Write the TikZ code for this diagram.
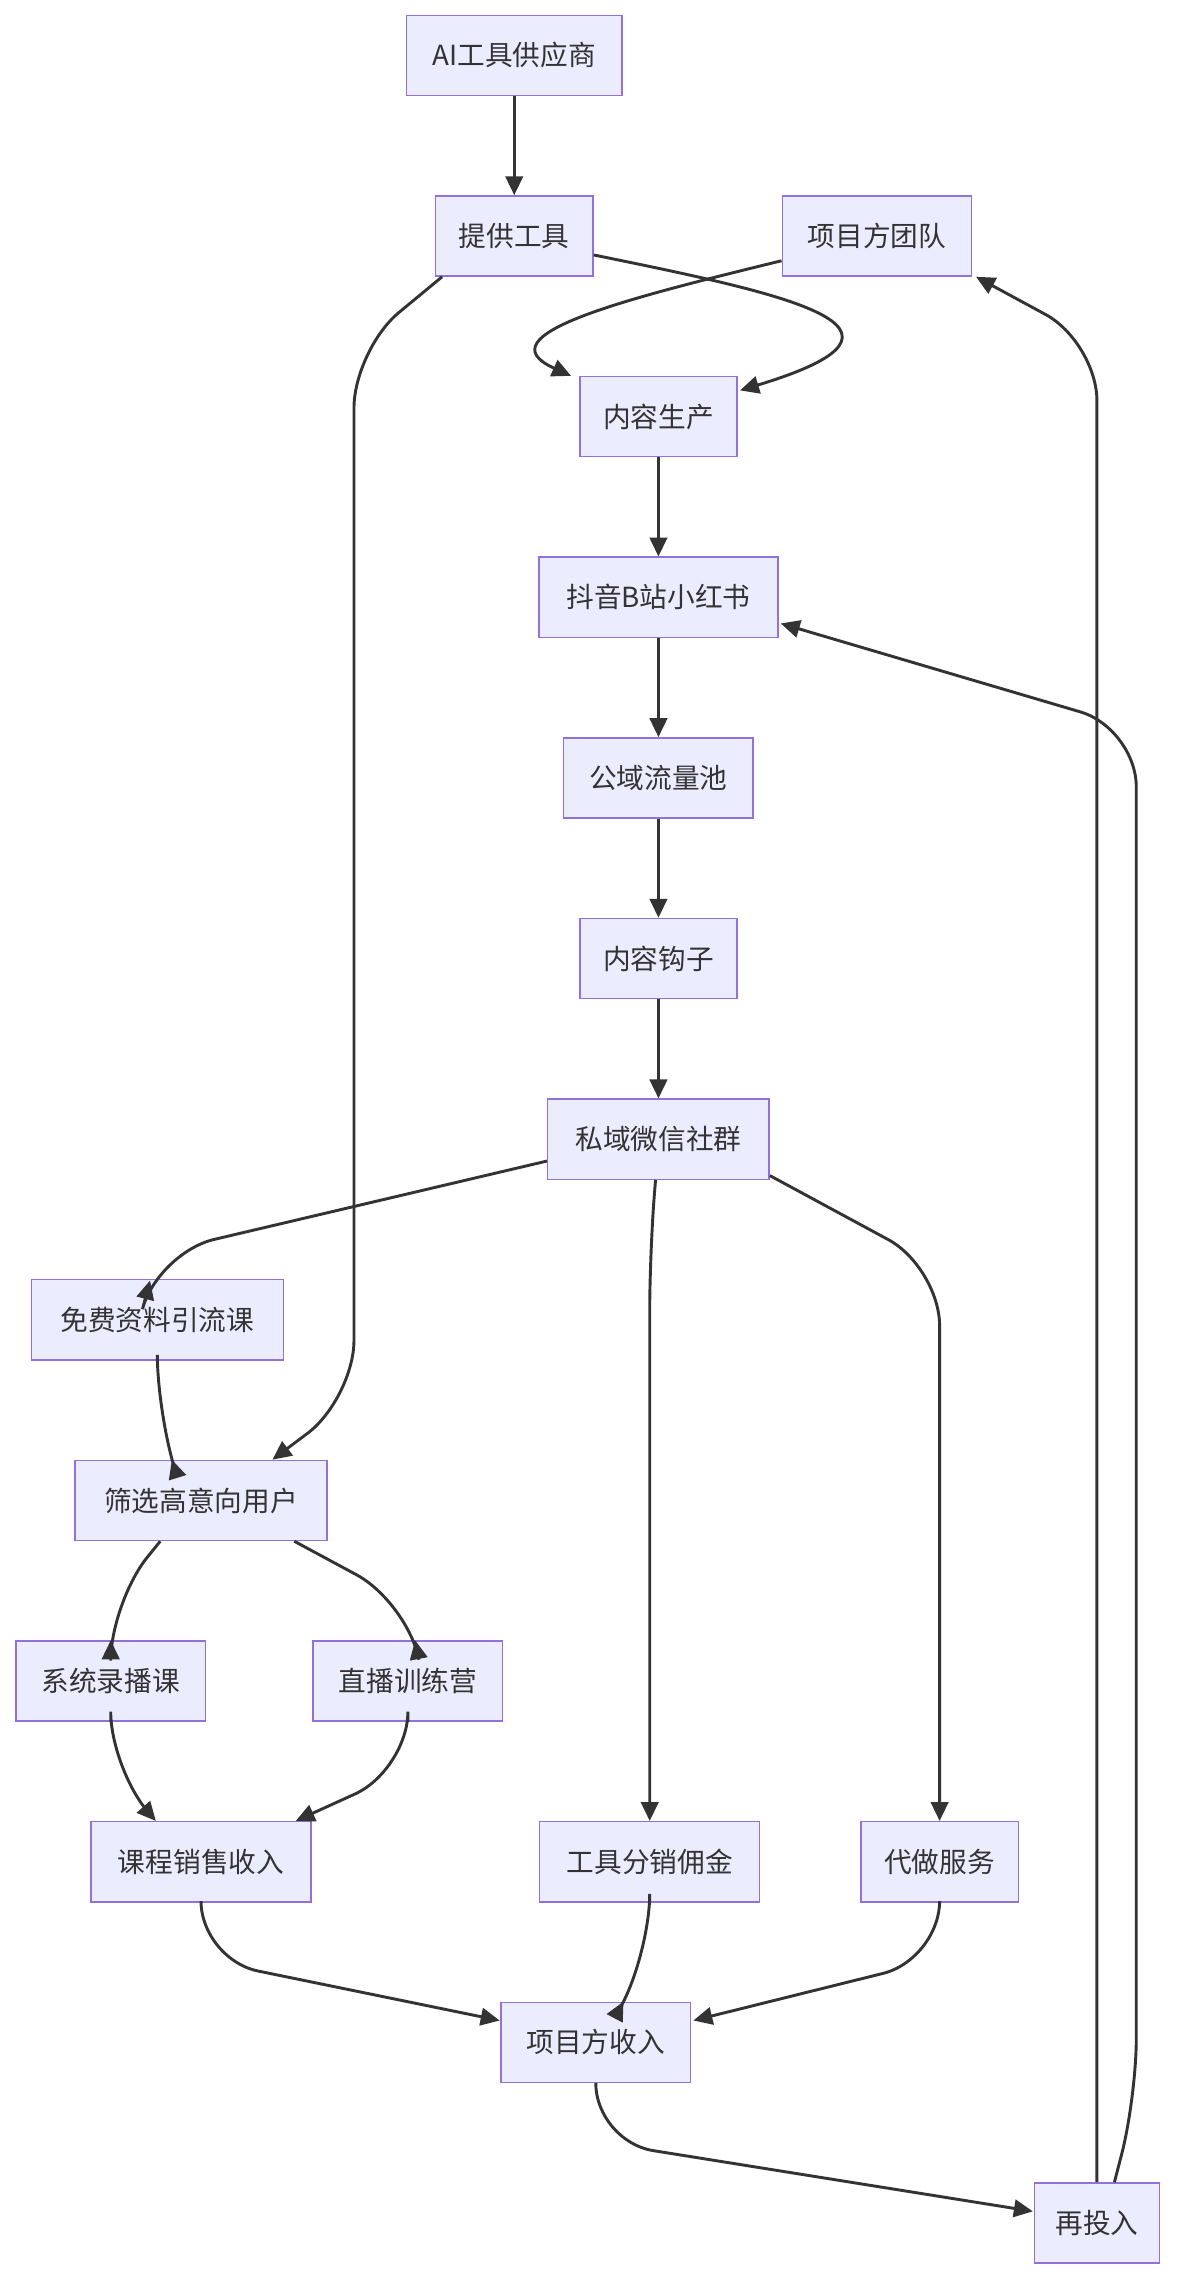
\documentclass[tikz,border=0pt]{standalone}
\usepackage{fontspec}
\setmainfont{Noto Sans CJK SC}
\usetikzlibrary{arrows.meta}
\definecolor{nfill}{HTML}{ECECFF}
\definecolor{nline}{HTML}{9370DB}
\definecolor{ink}{HTML}{333333}
\begin{document}
\begin{tikzpicture}[x=1pt,y=-1pt,
  box/.style={draw=nline,fill=nfill,line width=1pt,text=ink,minimum height=55pt,inner sep=0pt,font=\fontsize{19}{22}\selectfont},
  arr/.style={draw=ink,line width=2pt,-{Triangle[length=13pt,width=12pt]},rounded corners=40pt}]
\useasboundingbox (0,0) rectangle (810,1572);
\node[box,minimum width=148pt] (ai) at (353,38) {AI工具供应商};
\node[box,minimum width=108pt] (tg) at (353,162) {提供工具};
\node[box,minimum width=130pt] (td) at (602,162) {项目方团队};
\node[box,minimum width=108pt] (nr) at (452,286) {内容生产};
\node[box,minimum width=164pt] (dy) at (452,410) {抖音B站小红书};
\node[box,minimum width=130pt] (gy) at (452,534) {公域流量池};
\node[box,minimum width=108pt] (gz) at (452,658) {内容钩子};
\node[box,minimum width=152pt] (sy) at (452,782) {私域微信社群};
\node[box,minimum width=173pt] (mf) at (108,906) {免费资料引流课};
\node[box,minimum width=173pt] (sx) at (138,1030) {筛选高意向用户};
\node[box,minimum width=130pt] (lb) at (76,1154) {系统录播课};
\node[box,minimum width=130pt] (zb) at (280,1154) {直播训练营};
\node[box,minimum width=151pt] (kc) at (138,1278) {课程销售收入};
\node[box,minimum width=151pt] (fx) at (446,1278) {工具分销佣金};
\node[box,minimum width=108pt] (dz) at (645,1278) {代做服务};
\node[box,minimum width=130pt] (sr) at (409,1402) {项目方收入};
\node[box,minimum width=86pt] (zt) at (753,1526) {再投入};
\draw[arr] (ai) -- (tg);
\draw[arr] (tg.east) ++(0,13) .. controls (540,202) and (650,225) .. (508,268);
\draw[arr] (td.west) ++(0,17) .. controls (430,205) and (330,230) .. (392,258);
\draw[arr] (tg.south west) ++(5,0) -- (243,240) -- (243,960) -- (187,1002);
\draw[arr] (nr) -- (dy);
\draw[arr] (dy) -- (gy);
\draw[arr] (gy) -- (gz);
\draw[arr] (gz) -- (sy);
\draw[arr] (sy.west) ++(0,15) -- (108,860) -- (103,879);
\draw[arr] (sy.south) ++(-2,0) -- (446,860) -- (446,1250);
\draw[arr] (sy.east) ++(0,25) -- (645,870) -- (645,1250);
\draw[arr] (mf.south) -- (108,970) -- (118,1002);
\draw[arr] (sx.south) ++(-28,0) -- (76,1100) -- (76,1126);
\draw[arr] (sx.south) ++(64,0) -- (280,1100) -- (285,1126);
\draw[arr] (lb.south) -- (76,1215) -- (107,1250);
\draw[arr] (zb.south) -- (280,1215) -- (203,1250);
\draw[arr] (kc.south) -- (138,1345) -- (343,1387);
\draw[arr] (fx.south) -- (446,1340) -- (428,1374);
\draw[arr] (dz.south) -- (645,1345) -- (476,1387);
\draw[arr] (sr.south) -- (409,1470) -- (709,1518);
\draw[arr] (zt.north) -- (753,235) -- (670,190);
\draw[arr] (zt.north) ++(12,0) -- (780,1440) -- (780,500) -- (536,428);
\end{tikzpicture}
\end{document}
